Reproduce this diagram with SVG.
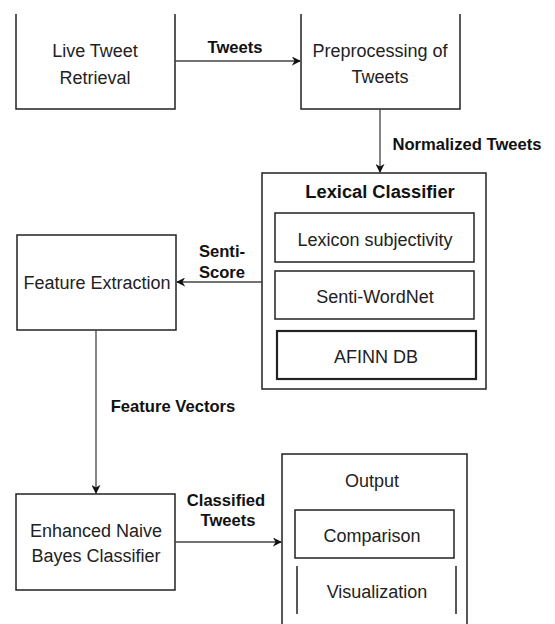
<svg xmlns="http://www.w3.org/2000/svg" width="555" height="624" viewBox="0 0 555 624">
<defs>
<style>
.box{fill:#fff;stroke:#222;stroke-width:1.5}
.open{fill:none;stroke:#222;stroke-width:1.5}
.t{font-family:"Liberation Sans",Arial,sans-serif;font-size:18px;fill:#222;text-anchor:middle}
.tb{font-family:"Liberation Sans",Arial,sans-serif;font-size:18.3px;font-weight:bold;fill:#111;text-anchor:middle}
.lbl{font-family:"Liberation Sans",Arial,sans-serif;font-size:16.6px;font-weight:bold;fill:#111;text-anchor:middle}
.edge{fill:none;stroke:#444;stroke-width:1.3}
</style>
<marker id="arr" viewBox="0 0 10 10" refX="9" refY="5" markerWidth="9" markerHeight="9" markerUnits="userSpaceOnUse" orient="auto">
<path d="M0,0 L10,5 L0,10 L3,5 z" fill="#111"/>
</marker>
</defs>
<rect width="555" height="624" fill="#fff"/>

<g id="live">
<path class="open" d="M16,14 V109 H175 V14"/>
<text class="t" x="95" y="57">Live Tweet</text>
<text class="t" x="95" y="84">Retrieval</text>
</g>

<g id="preprocessing">
<path class="open" d="M301,14 V109 H460 V14"/>
<text class="t" x="380" y="57">Preprocessing of</text>
<text class="t" x="380" y="83">Tweets</text>
</g>

<g id="lexical">
<rect class="box" x="262" y="173" width="224" height="216"/>
<text class="tb" x="380" y="198">Lexical Classifier</text>
<rect class="box" x="275" y="213" width="199" height="49"/>
<text class="t" x="375" y="246">Lexicon subjectivity</text>
<rect class="box" x="275" y="271" width="199" height="48"/>
<text class="t" x="375" y="303">Senti-WordNet</text>
<rect class="box" x="277" y="331" width="199" height="48" style="stroke-width:2.2"/>
<text class="t" x="376" y="363">AFINN DB</text>
</g>

<g id="feature">
<rect class="box" x="17" y="235" width="159" height="95"/>
<text class="t" x="97" y="289">Feature Extraction</text>
</g>

<g id="enhanced">
<rect class="box" x="16" y="494" width="159" height="96"/>
<text class="t" x="96" y="537">Enhanced Naive</text>
<text class="t" x="96" y="562">Bayes Classifier</text>
</g>

<g id="output">
<path class="open" d="M282,624 V454 H467 V624"/>
<text class="t" x="372" y="487">Output</text>
<rect class="box" x="295" y="510" width="159" height="48"/>
<text class="t" x="372" y="542">Comparison</text>
<path class="open" d="M297,566 V614 M456,566 V614"/>
<text class="t" x="377" y="598">Visualization</text>
</g>

<g id="connectors">
<path class="edge" d="M175,61 H300" marker-end="url(#arr)"/>
<text class="lbl" x="235" y="53">Tweets</text>
<path class="edge" d="M380,109 V172" marker-end="url(#arr)"/>
<text class="lbl" x="467" y="150">Normalized Tweets</text>
<path class="edge" d="M262,282 H177" marker-end="url(#arr)"/>
<text class="lbl" x="222" y="257">Senti-</text>
<text class="lbl" x="222" y="278">Score</text>
<path class="edge" d="M96,330 V493" marker-end="url(#arr)"/>
<text class="lbl" x="173" y="412">Feature Vectors</text>
<path class="edge" d="M175,542 H281" marker-end="url(#arr)"/>
<text class="lbl" x="226" y="506">Classified</text>
<text class="lbl" x="228" y="526">Tweets</text>
</g>
</svg>
